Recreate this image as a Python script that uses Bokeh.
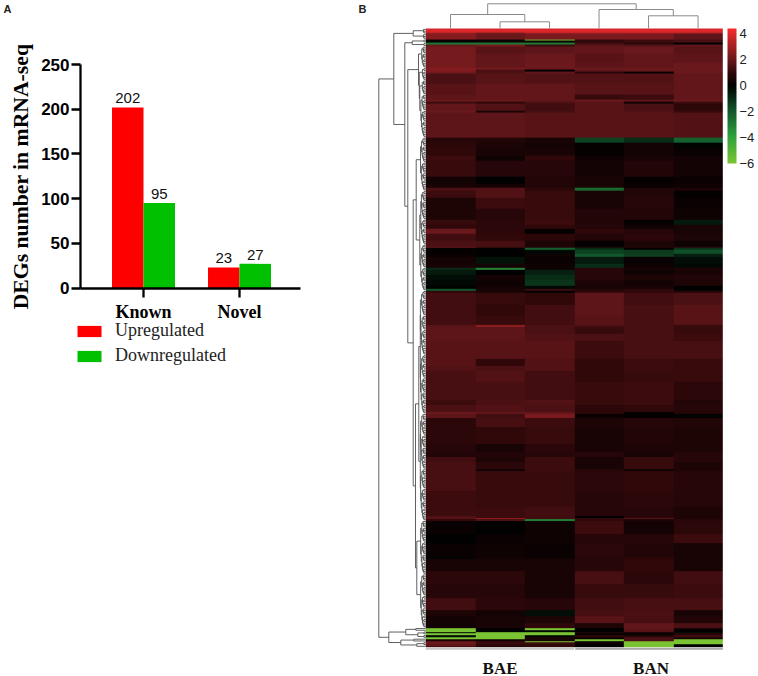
import numpy as np
from bokeh.embed import file_html
from bokeh.resources import INLINE
from bokeh.core.properties import value
from bokeh.plotting import figure
from bokeh.models import (ColorBar, FixedTicker, Legend, LegendItem, LinearAxis,
                          LinearColorMapper, Range1d)

# ---------- panel A data ----------
categories = ["Known", "Novel"]
upregulated = [202, 23]
downregulated = [95, 27]
y_ticks = [0, 50, 100, 150, 200, 250]

# ---------- panel B data: (genes, BAE1, BAE2, BAE3, BAN1, BAN2, BAN3) ----------
heat_a = [
    (2, 3.9, 3.9, 3.9, 3.9, 3.9, 3.9), (1, 3.0, 2.4, 3.2, 3.2, 3.2, 3.2),
    (3, 2.5, 2.0, 2.3, 2.3, 2.3, 1.8), (1, 0.1, 0.2, -5.5, 0.9, 1.2, 1.4),
    (1, 0.1, 0.2, 0.3, 1.0, 1.2, 1.4), (1, -2.8, -2.8, -2.8, 1.3, 0.9, 0.0),
    (1, 2.0, 2.2, 1.2, 1.8, 1.6, 1.9), (4, 2.2, 1.7, 1.8, 1.9, 2.0, 1.7),
    (5, 2.2, 1.9, 2.0, 1.7, 1.9, 1.8), (3, 2.2, 1.9, 2.1, 1.8, 1.9, 2.0),
    (1, 2.4, 2.2, 2.0, 2.0, 2.0, 2.0), (1, 2.4, 1.5, 0.0, 1.9, 2.0, 2.0),
    (1, 2.1, 1.5, 1.9, 0.9, 0.2, 2.0), (6, 1.5, 1.7, 1.6, 1.6, 1.6, 1.9),
    (6, 1.7, 1.9, 1.9, 1.7, 1.7, 1.9), (3, 1.8, 1.9, 1.9, 1.1, 1.2, 1.9),
    (1, 2.0, 2.0, 1.9, 2.1, 1.9, 2.0), (1, 1.2, 1.0, 1.5, 1.7, 0.4, 1.2),
    (4, 1.9, 1.6, 1.3, 1.7, 1.5, 0.9), (1, 2.0, 0.6, 1.4, 1.7, 1.6, 1.1),
    (14, 1.8, 1.8, 1.7, 1.7, 1.7, 1.6),
]
heat_b = [
    (3, 0.8, 0.7, 0.5, -1.5, -1.0, -2.2), (3, 0.9, 0.6, 0.4, 0.1, 0.4, -0.1),
    (4, 1.0, 0.5, 0.5, 0.1, 0.4, 0.2), (3, 1.2, 0.3, 1.0, 0.3, 0.5, 0.4),
    (9, 1.1, 0.8, 0.8, 0.4, 0.7, 0.4), (4, 0.4, 0.0, 0.7, 0.5, 0.1, 0.2),
    (2, 0.5, 0.4, 0.7, 0.5, 0.2, 0.3), (2, 1.5, 1.6, 0.9, -2.4, 0.7, 0.6),
    (4, 1.2, 1.6, 1.1, 0.5, 0.7, 0.1), (6, 0.6, 1.2, 1.1, 0.5, 0.8, 0.2),
    (6, 0.6, 0.8, 1.1, 0.7, 0.7, 0.3), (3, 1.1, 0.9, 1.2, 0.7, 0.1, -0.6),
    (2, 1.0, 0.9, 1.0, 0.8, 0.3, 0.5), (3, 2.0, 0.9, 0.1, 1.0, 0.8, 0.5),
    (4, 1.3, 1.0, 0.9, 0.7, 0.9, 0.6),
]
heat_c = [
    (3, 1.5, 1.4, 0.6, 0.1, 0.6, 0.3), (1, 2.0, 1.3, 0.7, 0.5, 0.8, 0.8),
    (1, 0.1, 0.0, -2.2, -1.0, 0.1, -1.2), (2, 0.1, 0.0, -0.2, -1.5, -1.3, -1.8),
    (2, 0.2, 0.0, 0.3, -2.0, -1.4, -0.7), (4, 0.4, -0.4, 0.2, -0.6, 0.2, -0.3),
    (2, 0.5, 0.4, 0.3, -1.0, 0.3, -0.2), (1, -1.0, -3.2, 0.3, 0.8, 0.5, 0.6),
    (3, -0.6, 0.0, -0.7, 0.8, 0.3, 0.5), (3, -0.3, 0.4, -1.0, 0.8, 0.6, 0.7),
    (3, -0.2, 0.3, -1.2, 0.6, 0.4, 0.6), (2, 0.0, 0.4, -0.2, 0.5, 0.5, 0.0),
    (1, -2.0, 0.5, 1.2, 0.7, 1.0, -0.1), (1, 1.0, 0.5, -0.1, 1.0, 1.0, 0.8),
    (7, 1.3, 1.1, 1.0, 1.8, 1.3, 1.5), (6, 1.3, 1.0, 1.3, 1.8, 1.4, 1.7),
    (5, 1.3, 1.1, 1.3, 1.7, 1.4, 1.7), (1, 1.7, 2.6, 1.5, 1.5, 1.4, 1.1),
    (4, 1.8, 1.8, 1.5, 1.1, 1.4, 1.1), (4, 1.8, 1.8, 1.6, 1.5, 1.4, 1.2),
]
heat_d = [
    (10, 1.7, 1.7, 1.7, 1.2, 1.4, 1.4), (4, 1.7, 1.0, 1.6, 1.0, 1.2, 1.1),
    (3, 1.6, 1.5, 1.6, 1.0, 1.2, 1.1), (6, 1.4, 1.6, 1.3, 1.0, 1.1, 1.1),
    (10, 1.4, 1.4, 1.3, 1.1, 1.2, 0.9), (3, 1.2, 1.5, 1.6, 1.1, 1.2, 0.7),
    (4, 1.5, 1.6, 1.5, 0.9, 1.0, 0.8), (1, 2.0, 1.9, 1.9, 0.9, 0.0, 0.8),
    (2, 1.8, 1.3, 2.3, 0.2, 0.1, -0.1), (5, 0.9, 1.4, 1.2, 0.6, 0.8, 0.7),
    (10, 0.9, 1.0, 1.1, 0.5, 0.7, 0.6), (4, 0.8, 0.5, 0.9, 0.5, 0.6, 0.6),
    (3, 0.7, 0.7, 0.8, 0.8, 0.5, 0.8),
]
heat_e = [
    (3, 1.3, 0.6, 1.2, 0.5, 1.1, 0.8), (4, 1.4, 0.9, 1.2, 0.5, 1.1, 0.6),
    (1, 1.4, 0.4, 1.2, 0.8, 0.3, 0.6), (11, 1.4, 1.1, 1.1, 0.9, 1.0, 0.8),
    (9, 1.2, 1.1, 1.1, 0.8, 0.9, 0.8), (5, 1.2, 1.2, 1.3, 0.8, 0.8, 0.6),
    (1, 1.6, 1.2, 1.3, 0.0, 0.9, 0.6), (1, 1.7, 2.7, 1.3, 1.0, 1.7, 0.6),
    (1, 1.0, 1.5, -3.0, 1.0, 0.6, 0.8), (7, 0.2, 0.0, 0.3, 1.2, 0.4, 0.9),
    (5, 0.0, 0.2, 0.3, 0.8, 0.8, 1.2), (8, 0.2, 0.3, 0.2, 0.9, 0.7, 0.5),
]
heat_f = [
    (1, -0.1, 0.4, 0.3, 0.8, 0.9, 0.5), (7, 0.5, 0.5, 0.5, 0.8, 1.0, 0.5),
    (7, 0.9, 0.9, 0.5, 1.4, 0.9, 1.3), (8, 0.8, 0.8, 0.5, 1.1, 1.1, 1.2),
    (7, 1.3, 0.9, 0.8, 1.3, 1.4, 1.4), (3, 0.6, 0.4, -0.3, 1.4, 1.5, 0.5),
    (4, 0.4, 0.5, 0.6, 1.7, 1.4, 0.7), (3, 0.4, 0.5, 1.0, 0.6, 1.9, 1.5),
]
heat_g = [
    (1, -6.0, 0.0, -6.0, 0.0, 1.8, 0.3), (1, -6.0, 0.0, -0.2, 0.0, 1.7, 0.0),
    (1, -0.1, -6.0, -6.0, 0.8, 0.3, -0.3), (1, -6.0, -6.0, -6.0, 0.2, 0.2, 0.9),
    (1, -0.2, -6.0, -0.2, 1.0, 0.7, 1.3), (1, -6.0, -6.0, 0.6, 0.2, 1.5, 0.5),
    (1, 0.5, 0.3, 0.5, -6.0, 1.5, -6.0), (1, 2.0, 1.2, -6.0, 0.0, -6.0, -6.0),
    (1, 2.0, 1.1, 1.2, 0.3, -6.0, -6.0), (1, 1.8, 1.0, 1.0, 0.0, -6.0, 0.0),
    (1, 1.4, 0.6, 1.0, 0.0, -6.0, 0.0),
]
groups = ["BAE", "BAN"]
bar_ticks = [-6, -4, -2, 0, 2, 4]

# column dendrogram: (merge height, left, right); None is one column
col_tree = (24.7, (14.0, None, (6.7, None, None)), (19.0, None, (12.7, None, None)))
# gene dendrogram: (merge height, upper, lower); an integer is a bundle of that many genes
gene_tree = (47.0,
    (32.0, (12.6, 3, 3),
     (21.0, (13.6, 2, 2),
      (18.0,
       (7.3, 12, (6.5, 7, (6.0, 8, 24))),
       (12.6,
        (9.6, (5.3, 14, 16), (6.0, (5.0, 16, 14), (5.0, 13, 13))),
        (10.3, (7.0, (5.5, 36, 33), (5.5, 31, 29)), (9.0, 30, 30)))))),
    (37.0,
     (20.0, (10.0, 1, 1), (8.0, 2, 2)),
     (25.0, (12.0, 1, 1), (9.0, 2, 1))))

# ---------- reference geometry (pixels on the page) ----------
HEAT_L, HEAT_R, HEAT_T, HEAT_B = 425.3, 722.3, 28.0, 646.7
BAR_L, BAR_R, BAR_TOP, BAR_ZERO = 80.0, 300.0, 64.0, 287.5
CAT_PX = 96.0
W, H = 758, 676

heat_rows = np.array(heat_a + heat_b + heat_c + heat_d + heat_e + heat_f + heat_g)
counts = heat_rows[:, 0].astype(int)
matrix = np.repeat(heat_rows[:, 1:], counts, axis=0)
n_genes, n_cols = matrix.shape

col_px = (HEAT_R - HEAT_L) / n_cols
row_px = (HEAT_B - HEAT_T) / n_genes
px_x = lambda px: (px - HEAT_L) / col_px
px_y = lambda px: (px - HEAT_T) / row_px

p = figure(width=W, height=H, output_backend="svg", toolbar_location=None,
           x_range=Range1d(px_x(0), px_x(W)), y_range=Range1d(px_y(H), px_y(0)),
           x_axis_type=None, y_axis_type=None,
           min_border=0, min_border_left=0, min_border_right=0, min_border_top=0, min_border_bottom=0)
p.grid.visible = False
p.outline_line_color = None

# ---------- panel A ----------
val_px = (BAR_ZERO - BAR_TOP) / 250.0
x_first = -(143.0 - BAR_L) / CAT_PX
x_last = x_first + (BAR_R - BAR_L) / CAT_PX
p.extra_x_ranges["bar_x"] = Range1d(x_first - BAR_L / CAT_PX, x_first + (W - BAR_L) / CAT_PX)
p.extra_y_ranges["bar_y"] = Range1d(-(H - BAR_ZERO) / val_px, BAR_ZERO / val_px)

xs = np.arange(len(categories))
bar_w = 0.328
rng = dict(x_range_name="bar_x", y_range_name="bar_y")
r_up = p.vbar(x=xs - bar_w / 2, top=upregulated, width=bar_w, color="#ff0000", line_color=None, **rng)
r_dn = p.vbar(x=xs + bar_w / 2, top=downregulated, width=bar_w, color="#00c000", line_color=None, **rng)
for offs, vals in ((-bar_w / 2, upregulated), (bar_w / 2, downregulated)):
    p.text(x=xs + offs, y=vals, text=[str(v) for v in vals], text_font=value("Liberation Sans"),
           text_font_size="15px", text_align="center", text_baseline="bottom",
           y_offset=-4, text_color="#111111", **rng)

ya = LinearAxis(ticker=FixedTicker(ticks=y_ticks), bounds=(0, 250), fixed_location=x_first, **rng)
ya.axis_label = "DEGs number in mRNA-seq"
ya.axis_label_text_font = "Liberation Serif"
ya.axis_label_text_font_style = "bold"
ya.axis_label_text_font_size = "21.7px"
ya.axis_label_text_color = "black"
ya.axis_label_standoff = 5
ya.major_label_text_font = "Liberation Sans"
ya.major_label_text_font_style = "bold"
ya.major_label_text_font_size = "17px"
ya.major_label_text_color = "black"
ya.major_label_standoff = 2
xa = LinearAxis(ticker=FixedTicker(ticks=list(xs)), bounds=(x_first, x_last), fixed_location=0, **rng)
xa.major_label_overrides = {int(i): c for i, c in zip(xs, categories)}
xa.major_label_text_font = "Liberation Serif"
xa.major_label_text_font_style = "bold"
xa.major_label_text_font_size = "18px"
xa.major_label_text_color = "black"
xa.major_label_standoff = 5
for ax in (xa, ya):
    ax.minor_tick_line_color = None
    ax.axis_line_width = 2.3
    ax.axis_line_color = "black"
    ax.major_tick_line_width = 2.3
    ax.major_tick_line_color = "black"
    ax.major_tick_in = 0
    ax.major_tick_out = 9
p.add_layout(ya, "left")
p.add_layout(xa, "below")

legend = Legend(items=[LegendItem(label="Upregulated", renderers=[r_up]),
                       LegendItem(label="Downregulated", renderers=[r_dn])],
                location=(74, H - 366), padding=0, margin=0, spacing=4,
                glyph_width=30, glyph_height=14, label_height=20, label_standoff=11,
                label_text_font="Liberation Serif", label_text_font_size="18px",
                label_text_color="#222222", background_fill_alpha=0, border_line_alpha=0)
p.add_layout(legend)

# ---------- panel B ----------
anchors_v = [-6, -4, -2, 0, 1, 2, 4.38]
anchors_c = [(0x7a, 0xc4, 0x33), (0x30, 0xa4, 0x3c), (0x12, 0x58, 0x2d), (0, 0, 0),
             (0x30, 0x08, 0x0a), (0x68, 0x18, 0x1c), (0xf6, 0x2a, 0x2c)]
levels = np.linspace(-6, 4.38, 256)
palette = ["#%02x%02x%02x" % tuple(int(round(np.interp(v, anchors_v, [c[k] for c in anchors_c])))
                                   for k in range(3)) for v in levels]
mapper = LinearColorMapper(palette=palette, low=-6, high=4.38)
p.image(image=[matrix], x=0, y=0, dw=n_cols, dh=n_genes, color_mapper=mapper)


def fan(n):
    if n == 1:
        return None
    a = max(1, n * 2 // 5)
    return (1.0 + 0.85 * np.log2(n), fan(a), fan(n - a))


def walk(node, counter, segs):
    if isinstance(node, int):
        node = fan(node)
    if node is None:
        pos = counter[0] + 0.5
        counter[0] += 1
        return pos, 0.0
    h, a, b = node
    pa, ha = walk(a, counter, segs)
    pb, hb = walk(b, counter, segs)
    segs += [(pa, ha, pa, h), (pb, hb, pb, h), (pa, h, pb, h)]
    return (pa + pb) / 2, h


p.extra_x_ranges["gene_h"] = Range1d(HEAT_L, HEAT_L - W)
p.extra_y_ranges["col_h"] = Range1d(HEAT_T - H, HEAT_T)

segs = []
walk(gene_tree, [0], segs)
s = np.array(segs)
p.segment(x0=s[:, 1], y0=s[:, 0], x1=s[:, 3], y1=s[:, 2], x_range_name="gene_h",
          line_color="#4f4f4f", line_width=0.9)
segs = []
walk(col_tree, [0], segs)
s = np.array(segs)
p.segment(x0=s[:, 0], y0=s[:, 1], x1=s[:, 2], y1=s[:, 3], y_range_name="col_h",
          line_color="#8a8a8a", line_width=1)

strip_y = px_y(648.3)
p.segment(x0=[0, 3.02], y0=[strip_y] * 2, x1=[3, 6], y1=[strip_y] * 2,
          line_color=["#c6c6c6", "#a6a6a6"], line_width=2)
p.text(x=[1.5, 4.55], y=[px_y(667.5)] * 2, text=groups, text_font=value("Liberation Serif"),
       text_font_style="bold", text_font_size="17px", text_align="center",
       text_baseline="middle", text_color="#111111")
p.text(x=[px_x(3), px_x(358)], y=[px_y(8)] * 2, text=["A", "B"], text_font=value("Liberation Sans"),
       text_font_style="bold", text_font_size="11px", text_baseline="middle", text_color="#222222")

cb = ColorBar(color_mapper=mapper, ticker=FixedTicker(ticks=bar_ticks), width=9, height=135,
              location=(727, H - 163), padding=0, margin=0, bar_line_color=None,
              major_tick_line_color=None, minor_tick_line_color=None, label_standoff=3,
              major_label_text_font="Liberation Sans", major_label_text_font_size="13px",
              major_label_text_color="#222222", background_fill_alpha=0)
p.add_layout(cb)

open("out.html", "w").write(file_html(p, INLINE))
